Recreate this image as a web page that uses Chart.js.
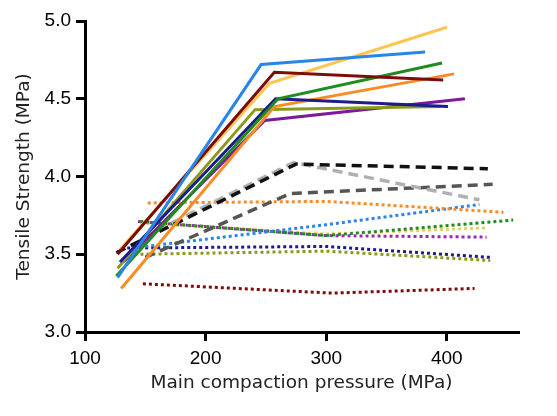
<!DOCTYPE html>
<html lang="en">
<head>
  <meta charset="UTF-8">
  <title>Tensile Strength vs Main Compaction Pressure</title>
  <script src="https://cdn.jsdelivr.net/npm/chart.js"></script>
  <style>
    body {
      margin: 0;
      background: #ffffff;
    }

    .chart-container {
      width: 557px;
      height: 416px;
    }
  </style>
</head>
<body>

  <div class="chart-container">
    <canvas id="tensileChart"></canvas>
  </div>

  <script>
    // x ticks and y ticks shown on the axes
    const pressureTicks = [100, 200, 300, 400];
    const strengthTicks = [3.0, 3.5, 4.0, 4.5, 5.0];

    // solid lines: blue, maroon, yellow, green, navy, orange, olive, purple
    const solidNames = ['A1', 'A2', 'A3', 'A4', 'A5', 'A6', 'A7', 'A8'];
    const solidPressure = [
      [127, 246, 382], [127, 257, 397], [129, 253, 400], [126, 260, 396],
      [129, 258, 401], [130, 257, 406], [127, 241, 395], [132, 249, 415]
    ];
    const solidStrength = [
      [3.35, 4.72, 4.80], [3.50, 4.67, 4.62], [3.53, 4.60, 4.96], [3.36, 4.50, 4.73],
      [3.45, 4.50, 4.45], [3.28, 4.45, 4.66], [3.41, 4.43, 4.45], [3.45, 4.36, 4.50]
    ];

    // dashed lines: black, light grey, dark grey
    const dashedNames = ['B1', 'B2', 'B3'];
    const dashedPressure = [[126, 275, 434], [148, 273, 427], [150, 270, 438]];
    const dashedStrength = [[3.51, 4.08, 4.05], [3.61, 4.09, 3.85], [3.48, 3.89, 3.95]];

    // dotted lines: orange, blue, green, yellow, purple, navy, olive, maroon
    const dottedNames = ['C1', 'C2', 'C3', 'C4', 'C5', 'C6', 'C7', 'C8'];
    const dottedPressure = [
      [152, 300, 447], [150, 300, 427], [146, 300, 455], [146, 300, 433],
      [144, 300, 433], [135, 300, 436], [146, 300, 436], [148, 305, 423]
    ];
    const dottedStrength = [
      [3.83, 3.84, 3.77], [3.55, 3.69, 3.82], [3.71, 3.62, 3.72], [3.70, 3.63, 3.67],
      [3.71, 3.62, 3.61], [3.54, 3.55, 3.48], [3.50, 3.52, 3.46], [3.31, 3.25, 3.28]
    ];

    const solidColors = ['#2a85e8', '#7a0c0c', '#ffc452', '#1e8c1e', '#1c1c8a', '#fb8c24', '#8b9a1c', '#7d1a9a'];
    const dashedColors = ['#111111', '#b0b0b0', '#555555'];
    const dottedColors = ['#fb8c24', '#2a85e8', '#1e8c1e', '#e6cf6a', '#9a2ab0', '#1c1c8a', '#8b9a1c', '#7a0c0c'];

    function toPoints(xs, ys) {
      return xs.map((x, i) => ({ x: x, y: ys[i] }));
    }

    const datasets = [];
    solidNames.forEach((name, i) => {
      datasets.push({
        label: name,
        data: toPoints(solidPressure[i], solidStrength[i]),
        borderColor: solidColors[i],
        borderWidth: 3
      });
    });
    dashedNames.forEach((name, i) => {
      datasets.push({
        label: name,
        data: toPoints(dashedPressure[i], dashedStrength[i]),
        borderColor: dashedColors[i],
        borderWidth: 3.5,
        borderDash: [10, 6]
      });
    });
    dottedNames.forEach((name, i) => {
      datasets.push({
        label: name,
        data: toPoints(dottedPressure[i], dottedStrength[i]),
        borderColor: dottedColors[i],
        borderWidth: 3,
        borderDash: [3, 3]
      });
    });

    const tickFont = { family: 'Liberation Sans', size: 19 };
    const titleFont = { family: 'DejaVu Sans', size: 18.5 };

    new Chart(document.getElementById('tensileChart'), {
      type: 'line',
      data: { datasets: datasets },
      options: {
        responsive: true,
        maintainAspectRatio: false,
        animation: false,
        elements: {
          point: { radius: 0 },
          line: { tension: 0, fill: false }
        },
        layout: {
          padding: { top: 21, right: 39, left: 0, bottom: 0 }
        },
        plugins: {
          legend: { display: false },
          tooltip: { enabled: false }
        },
        scales: {
          x: {
            type: 'linear',
            min: 100,
            max: 459,
            afterBuildTicks: (scale) => {
              scale.ticks = pressureTicks.map(v => ({ value: v }));
            },
            afterFit: (scale) => { scale.height = 84; },
            border: { display: true, color: '#000', width: 3 },
            grid: { drawOnChartArea: false, drawTicks: true, tickLength: 9, color: '#000', lineWidth: 3 },
            ticks: { color: '#000', font: tickFont, padding: 6, maxRotation: 0 },
            title: {
              display: true,
              text: 'Main compaction pressure (MPa)',
              color: '#222',
              font: titleFont,
              padding: { top: 4, bottom: 22 }
            }
          },
          y: {
            min: 3.0,
            max: 5.0,
            afterBuildTicks: (scale) => {
              scale.ticks = strengthTicks.map(v => ({ value: v }));
            },
            afterFit: (scale) => { scale.width = 85; },
            border: { display: true, color: '#000', width: 3 },
            grid: { drawOnChartArea: false, drawTicks: true, tickLength: 9, color: '#000', lineWidth: 3 },
            ticks: {
              color: '#000',
              font: tickFont,
              padding: 5,
              callback: (v) => v.toFixed(1)
            },
            title: {
              display: true,
              text: 'Tensile Strength (MPa)',
              color: '#222',
              font: titleFont,
              padding: { top: 13, bottom: 4 }
            }
          }
        }
      }
    });
  </script>

</body>
</html>
